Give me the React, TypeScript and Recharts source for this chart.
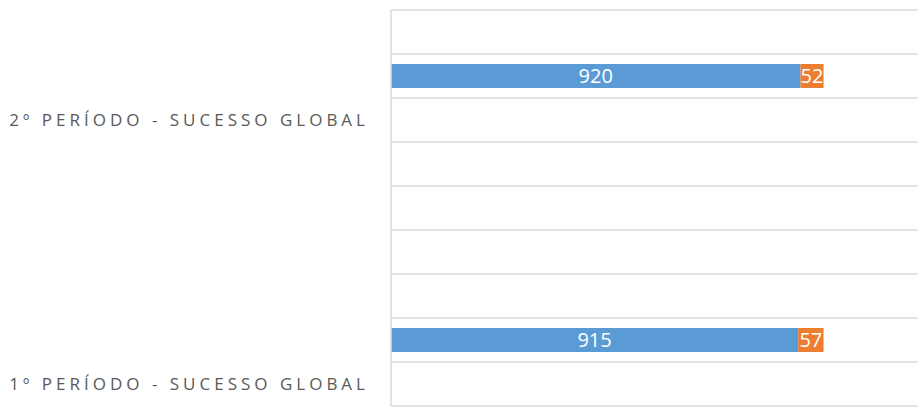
import { BarChart, Bar, XAxis, YAxis, CartesianGrid, LabelList } from 'recharts';

// category bands, top to bottom (the period labels sit in the band under each bar)
const bandLabels = ['', '', '2º PERÍODO - SUCESSO GLOBAL', '', '', '', '', '', '1º PERÍODO - SUCESSO GLOBAL'];
const successValues = [null, 920, null, null, null, null, null, 915, null];
const failValues = [null, 52, null, null, null, null, null, 57, null];
const axisMax = 1200;

const data = bandLabels.map((label, i) => ({
    key: `b${i}`,
    label,
    sucesso: successValues[i],
    insucesso: failValues[i],
}));

const GRID = '#d9d9d9';
const FONT = "'Open Sans', 'Liberation Sans', sans-serif";

export default function App() {
    return (
        <div style={{ position: 'absolute', left: 0, top: 0, width: 918, height: 407, overflow: 'hidden', background: '#fff' }}>
            <BarChart
                width={925}
                height={407}
                data={data}
                layout="vertical"
                margin={{ top: 10, right: 0, bottom: 1, left: 0 }}
                barSize={24}
            >
                <CartesianGrid
                    vertical={false}
                    stroke={GRID}
                    strokeWidth={1.5}
                    horizontalCoordinatesGenerator={({ offset }: any) =>
                        Array.from({ length: bandLabels.length + 1 }, (_, i) => offset.top + (i * offset.height) / bandLabels.length)
                    }
                />
                <XAxis type="number" domain={[0, axisMax]} hide />
                <YAxis
                    type="category"
                    dataKey="key"
                    width={391}
                    axisLine={{ stroke: GRID, strokeWidth: 1.5 }}
                    tickLine={false}
                    tickSize={0}
                    tickMargin={22}
                    tickFormatter={(v: string) => data.find((d) => d.key === v)?.label ?? ''}
                    tick={{ fontSize: 17, fill: '#595959', fontFamily: FONT, letterSpacing: 4 }}
                    interval={0}
                />
                <Bar dataKey="sucesso" stackId="a" fill="#5B9BD5" isAnimationActive={false}>
                    <LabelList dataKey="sucesso" position="center" fill="#fff" fontSize={20} fontFamily={FONT} />
                </Bar>
                <Bar dataKey="insucesso" stackId="a" fill="#ED7D31" isAnimationActive={false}>
                    <LabelList dataKey="insucesso" position="center" fill="#fff" fontSize={20} fontFamily={FONT} />
                </Bar>
            </BarChart>
        </div>
    );
}
